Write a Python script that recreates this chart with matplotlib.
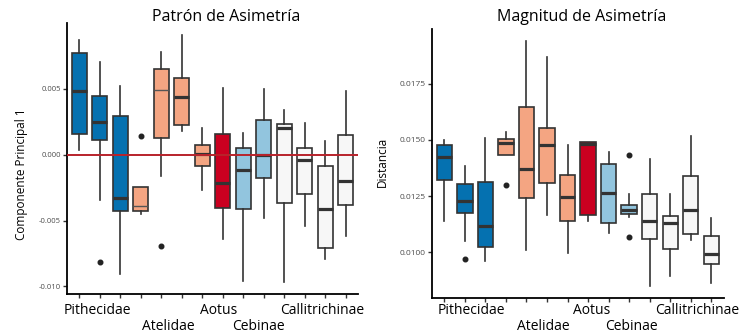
import numpy as np
import matplotlib
matplotlib.use("Agg")
import matplotlib.pyplot as plt
import matplotlib.transforms as mtransforms

plt.rcParams['font.family'] = ['Open Sans', 'DejaVu Sans']

# -----------------------------------------------------------------
# Donnees (14 groupes par panneau)
# -----------------------------------------------------------------
box_colors = ['#0571b0'] * 3 + ['#f4a582'] * 4 + ['#ca0020'] + ['#92c5de'] * 2 + ['#f7f7f7'] * 4

group_names = ['Pithecidae', 'Atelidae', 'Aotus', 'Cebinae', 'Callitrichinae']
group_row = [0, 1, 0, 1, 0]   # 0 = ligne haute, 1 = ligne basse

# Patron de Asimetria (Componente Principal 1)
pc_whislo = [0.00033, -0.00343, -0.00906, -0.00449, -0.00165, 0.00178, -0.00266,
             -0.00642, -0.00962, -0.00482, -0.00964, -0.00540, -0.00794, -0.00617]
pc_q1 = [0.00160, 0.00109, -0.00426, -0.00426, 0.00127, 0.00226, -0.00084,
         -0.00406, -0.00414, -0.00180, -0.00365, -0.00297, -0.00708, -0.00383]
pc_med = [0.00480, 0.00249, -0.00330, -0.00393, 0.00490, 0.00439, 0.00005,
          -0.00216, -0.00117, 0.00000, 0.00203, -0.00038, -0.00411, -0.00200]
pc_q3 = [0.00772, 0.00444, 0.00292, -0.00249, 0.00652, 0.00584, 0.00076,
         0.00160, 0.00048, 0.00266, 0.00234, 0.00051, -0.00089, 0.00147]
pc_whishi = [0.00868, 0.00706, 0.00518, -0.00249, 0.00782, 0.00906, 0.00206,
             0.00510, 0.00165, 0.00495, 0.00343, 0.00244, 0.00102, 0.00480]
pc_fliers = [[], [-0.00815], [], [0.00140], [-0.00695], [], [],
             [], [], [], [], [], [], []]
pc_label_x = [1.9, 5.33, 7.78, 9.73, 12.87]

# Magnitud de Asimetria (Distancia)
d_whislo = [0.01140, 0.01050, 0.00960, 0.01435, 0.01010, 0.01164, 0.00999,
            0.01138, 0.01085, 0.01156, 0.00851, 0.00895, 0.01055, 0.00863]
d_q1 = [0.01324, 0.01177, 0.01024, 0.01435, 0.01240, 0.01309, 0.01141,
        0.01168, 0.01132, 0.01171, 0.01061, 0.01017, 0.01080, 0.00950]
d_med = [0.01426, 0.01229, 0.01116, 0.01488, 0.01371, 0.01476, 0.01248,
         0.01482, 0.01266, 0.01189, 0.01141, 0.01132, 0.01187, 0.00992]
d_q3 = [0.01478, 0.01303, 0.01313, 0.01506, 0.01645, 0.01555, 0.01343,
        0.01491, 0.01393, 0.01210, 0.01261, 0.01162, 0.01341, 0.01072]
d_whishi = [0.01500, 0.01386, 0.01509, 0.01536, 0.01940, 0.01868, 0.01476,
            0.01491, 0.01448, 0.01258, 0.01414, 0.01260, 0.01516, 0.01152]
d_fliers = [[], [0.00970], [], [0.01300], [], [], [],
            [], [], [0.01433, 0.01067], [], [], [], []]
d_label_x = [2.34, 5.8, 8.18, 10.12, 13.3]

pc_yticks = [-0.010, -0.005, 0.000, 0.005]
pc_yticklabels = ['-0.010', '-0.005', '0.000', '0.005']
d_yticks = [0.0100, 0.0125, 0.0150, 0.0175]
d_yticklabels = ['0.0100', '0.0125', '0.0150', '0.0175']


def build_stats(whislo, q1, med, q3, whishi, fliers):
    stats = []
    for i in range(len(med)):
        stats.append(dict(whislo=whislo[i], q1=q1[i], med=med[i], q3=q3[i],
                          whishi=whishi[i], fliers=np.array(fliers[i])))
    return stats


def draw_panel(ax, stats, thin_medians=()):
    pos = np.arange(1, len(stats) + 1)
    bp = ax.bxp(stats, positions=pos, widths=0.75, patch_artist=True,
                showcaps=False,
                boxprops=dict(edgecolor='#333333', linewidth=1.2),
                whiskerprops=dict(color='#333333', linewidth=1.2),
                medianprops=dict(color='#333333', linewidth=2.3),
                flierprops=dict(marker='o', markerfacecolor='#222222',
                                markeredgecolor='#222222', markersize=3.3))
    for patch, c in zip(bp['boxes'], box_colors):
        patch.set_facecolor(c)
    for i in thin_medians:
        bp['medians'][i].set_linewidth(1.0)
        bp['medians'][i].set_color('#555555')
    ax.set_xlim(0.4, len(stats) + 0.6)
    ax.set_xticks(pos)
    ax.set_xticklabels([])
    for s in ['top', 'right']:
        ax.spines[s].set_visible(False)
    for s in ['left', 'bottom']:
        ax.spines[s].set_linewidth(1.3)
        ax.spines[s].set_color('black')
    ax.tick_params(axis='both', length=3, width=1, color='#333333', pad=1.5)
    return bp


fig = plt.figure(figsize=(7.52, 3.35), dpi=100)
W, H = 752, 335

# ---------------- Panneau gauche ----------------
ax1 = fig.add_axes([67 / W, 1 - 294 / H, (358 - 67) / W, (294 - 23) / H])
draw_panel(ax1, build_stats(pc_whislo, pc_q1, pc_med, pc_q3, pc_whishi, pc_fliers),
           thin_medians=(3, 4))
ax1.axhline(0, color='#b8232b', linewidth=1.4, zorder=5)
ax1.set_ylim(-0.01058, 0.0100)
ax1.set_yticks(pc_yticks)
ax1.set_yticklabels(pc_yticklabels, fontsize=5.5, color='#4d4d4d')
fig.text(226 / W, 1 - 17 / H, 'Patrón de Asimetría', ha='center', va='center', fontsize=11.5)
fig.text(22 / W, 1 - 174 / H, 'Componente Principal 1', rotation=90,
         ha='center', va='center', fontsize=8.5)

# ---------------- Panneau droit ----------------
ax2 = fig.add_axes([432 / W, 1 - 298 / H, (723.6 - 432) / W, (298 - 29.3) / H])
draw_panel(ax2, build_stats(d_whislo, d_q1, d_med, d_q3, d_whishi, d_fliers))
ax2.set_ylim(0.00797, 0.01992)
ax2.set_yticks(d_yticks)
ax2.set_yticklabels(d_yticklabels, fontsize=6, color='#4d4d4d')
fig.text(582 / W, 1 - 17 / H, 'Magnitud de Asimetría', ha='center', va='center', fontsize=11.5)
fig.text(382 / W, 1 - 162 / H, 'Distancia', rotation=90,
         ha='center', va='center', fontsize=8.5)

# Etiquettes de groupes sur deux lignes
row_y = [1 - 311 / H, 1 - 327 / H]
for ax, lx in [(ax1, pc_label_x), (ax2, d_label_x)]:
    trans = mtransforms.blended_transform_factory(ax.transData, fig.transFigure)
    for name, x, row in zip(group_names, lx, group_row):
        ax.text(x, row_y[row], name, transform=trans, ha='center', va='center',
                fontsize=10, clip_on=False)

fig.savefig('out.png', dpi=100)
